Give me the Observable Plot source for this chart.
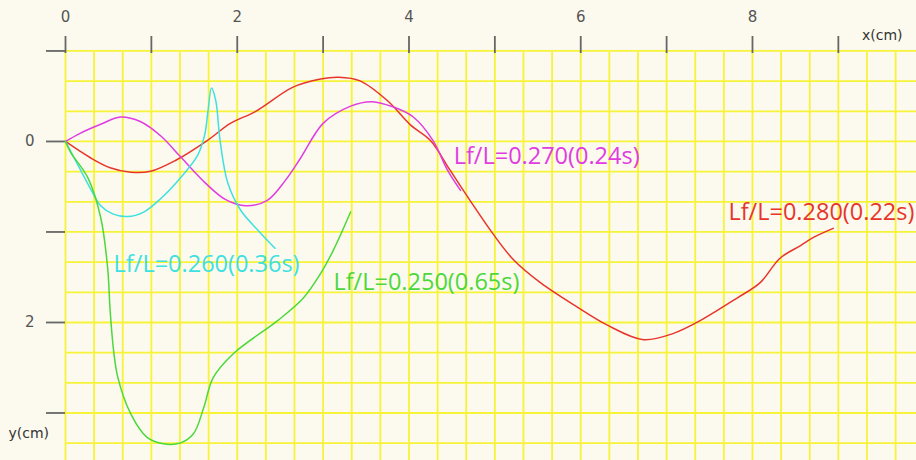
<!DOCTYPE html>
<html>
<head>
<meta charset="utf-8">
<script src="https://cdn.jsdelivr.net/npm/d3@7"></script>
<script src="https://cdn.jsdelivr.net/npm/@observablehq/plot@0.6"></script>
<style>
  html, body { margin: 0; padding: 0; background: #fcfaee; }
  #chart { width: 916px; height: 460px; }
</style>
</head>
<body>
<div id="chart"></div>
<script>
// Lf/L = 0.280 (0.22s) — red
const redX = [0, 0.29, 0.52, 0.76, 0.99, 1.28, 1.65, 1.92, 2.21, 2.65, 2.97, 3.18, 3.43, 3.75, 4.02, 4.25, 4.48, 4.71, 4.97, 5.22, 5.53, 5.96, 6.31, 6.73, 7.08, 7.39, 7.82, 8.09, 8.32, 8.56, 8.71, 8.94];
const redY = [0, 0.18, 0.29, 0.34, 0.33, 0.21, -0.01, -0.2, -0.33, -0.6, -0.69, -0.71, -0.67, -0.45, -0.18, -0.01, 0.32, 0.65, 1.01, 1.31, 1.56, 1.83, 2.03, 2.19, 2.12, 1.98, 1.73, 1.56, 1.29, 1.15, 1.06, 0.96];
// Lf/L = 0.270 (0.24s) — magenta
const magX = [0, 0.17, 0.41, 0.64, 0.87, 1.11, 1.34, 1.63, 1.86, 2.1, 2.35, 2.56, 2.74, 3.0, 3.32, 3.57, 3.82, 4.05, 4.28, 4.45, 4.6];
const magY = [0, -0.09, -0.19, -0.27, -0.22, -0.06, 0.17, 0.46, 0.64, 0.71, 0.65, 0.43, 0.18, -0.2, -0.39, -0.44, -0.38, -0.27, -0.01, 0.32, 0.54];
// Lf/L = 0.260 (0.36s) — cyan
const cyanX = [0, 0.15, 0.29, 0.41, 0.55, 0.72, 0.91, 1.11, 1.34, 1.54, 1.62, 1.66, 1.7, 1.75, 1.8, 1.89, 2.04, 2.24, 2.44];
const cyanY = [0, 0.27, 0.52, 0.71, 0.8, 0.83, 0.78, 0.63, 0.4, 0.15, -0.07, -0.34, -0.59, -0.45, -0.01, 0.46, 0.76, 0.98, 1.18];
// Lf/L = 0.250 (0.65s) — green
const greenX = [0, 0.06, 0.26, 0.41, 0.49, 0.52, 0.56, 0.61, 0.76, 0.95, 1.14, 1.34, 1.49, 1.61, 1.72, 1.96, 2.47, 2.77, 2.97, 3.12, 3.32];
const greenY = [0, 0.12, 0.4, 0.84, 1.39, 1.87, 2.31, 2.61, 3.01, 3.27, 3.34, 3.33, 3.23, 2.94, 2.61, 2.34, 1.98, 1.73, 1.46, 1.2, 0.78];

const seriesNames = ["Lf/L=0.280(0.22s)", "Lf/L=0.270(0.24s)", "Lf/L=0.260(0.36s)", "Lf/L=0.250(0.65s)"];
const seriesColors = ["#e8352c", "#e03ce0", "#3fe0e0", "#4cd83c"];
// label anchor points (data units)
const labelX = [7.72, 4.52, 0.56, 3.12];
const labelY = [0.78, 0.17, 1.36, 1.56];

const xTicks = [0, 1, 2, 3, 4, 5, 6, 7, 8, 9];
const xTickLabels = ["0", "", "2", "", "4", "", "6", "", "8", ""];
const yTicks = [-1, 0, 1, 2, 3];
const yTickLabels = ["", "0", "", "2", ""];
const xTitle = "x(cm)";
const yTitle = "y(cm)";

const series = [[redX, redY], [magX, magY], [cyanX, cyanY], [greenX, greenY]];
const lineData = series.flatMap(([xs, ys], k) => xs.map((x, i) => ({x, y: ys[i], s: seriesNames[k]})));
const labelData = seriesNames.map((s, k) => ({s, x: labelX[k], y: labelY[k]}));

const gridXs = d3.range(0, 30).map(i => i / 3);
const gridYs = d3.range(-3, 11).map(i => i / 3);

const chart = Plot.plot({
  width: 916,
  height: 460,
  marginLeft: 65,
  marginTop: 52,
  marginRight: 0,
  marginBottom: 0,
  style: {background: "#fcfaee", fontFamily: "DejaVu Sans", overflow: "visible"},
  x: {domain: [0, 9.91]},
  y: {domain: [-0.983, 3.525], reverse: true},
  color: {domain: seriesNames, range: seriesColors},
  marks: [
    Plot.ruleX(gridXs, {x: d => d, stroke: "#f6f338", strokeWidth: 1.8}),
    Plot.ruleY(gridYs, {y: d => d, stroke: "#f6f338", strokeWidth: 1.8}),
    Plot.axisX({anchor: "top", ticks: xTicks, tickSize: 17, tickPadding: 14,
      tickFormat: (d) => xTickLabels[xTicks.indexOf(d)], stroke: "#666", strokeWidth: 1.8,
      fill: "#555", fontSize: 15, label: null}),
    Plot.axisY({anchor: "left", ticks: yTicks, tickSize: 19, tickPadding: 12,
      tickFormat: d => yTickLabels[yTicks.indexOf(d)], stroke: "#666", strokeWidth: 1.8,
      fill: "#555", fontSize: 15, label: null}),
    Plot.line(lineData, {x: "x", y: "y", z: "s", stroke: "s", strokeWidth: 1.5, curve: "catmull-rom"}),
    Plot.text(labelData, {x: "x", y: "y", text: "s", fill: "s", textAnchor: "start",
      fontSize: 23.5, fontFamily: "Open Sans"}),
    Plot.text([xTitle], {frameAnchor: "top-right", dx: -14, dy: -22, text: d => d, fontSize: 14, fill: "#333", textAnchor: "end"}),
    Plot.text([yTitle], {frameAnchor: "bottom-left", dx: -57, dy: -23, text: d => d, fontSize: 14, fill: "#333", textAnchor: "start"})
  ]
});
document.getElementById("chart").appendChild(chart);
</script>
</body>
</html>
